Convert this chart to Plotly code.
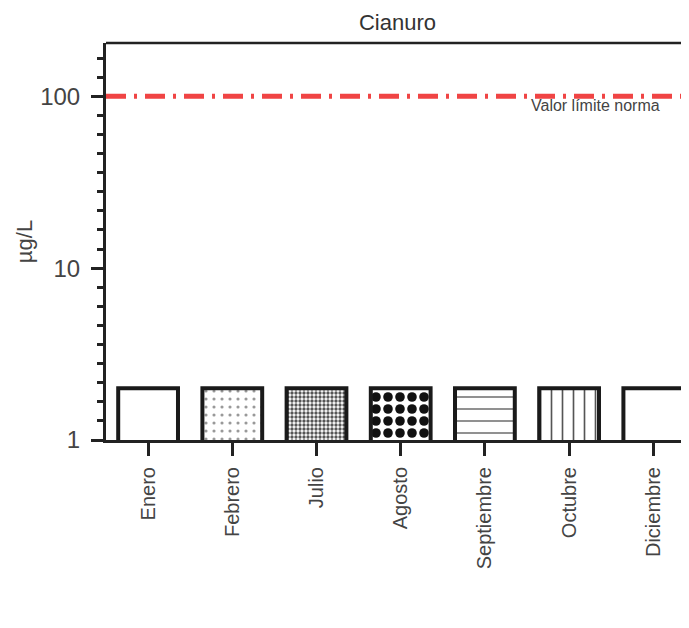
import plotly.graph_objects as go

months = ["Enero", "Febrero", "Julio", "Agosto", "Septiembre", "Octubre", "Diciembre"]
values = [2, 2, 2, 2, 2, 2, 2]
patterns = ["", ".", ".", ".", "-", "|", ""]
pat_size = [6, 8, 4, 12, 12, 11, 6]
pat_solid = [0.3, 0.12, 0.55, 0.5, 0.12, 0.15, 0.3]
pat_fg = ["#333", "#999", "#555", "#111", "#666", "#555", "#333"]
limit_value = 100
limit_label = "Valor límite norma"

x_idx = list(range(len(months)))

# page offset (default body margin of the html page)
OFF = 8
W, H = 689 - OFF, 628 - 2 * OFF
L, T = 106 - OFF, 43 - OFF
PH = 440 - 43
B = H - T - PH

fig = go.Figure()
fig.add_trace(go.Bar(
    x=x_idx, y=values, width=0.71,
    marker=dict(
        color="white",
        line=dict(color="#1a1a1a", width=4),
        pattern=dict(shape=patterns, size=pat_size, solidity=pat_solid,
                     fgcolor=pat_fg, fgopacity=1, bgcolor="white", fillmode="overlay"),
    ),
    showlegend=False,
))

fig.add_trace(go.Scatter(
    x=[-0.5, 6.5], y=[limit_value, limit_value], mode="lines",
    line=dict(color="#f04444", width=5, dash="20px,8px,3px,8px"),
    showlegend=False, hoverinfo="skip",
))

fig.add_annotation(x=6.1, y=2.0, xref="x", yref="y", yanchor="top", xanchor="right",
                   yshift=1,
                   text=limit_label, showarrow=False,
                   font=dict(size=16, color="#444", family="Liberation Sans"))

minor_vals = [10 ** (j / 9) for j in range(0, 21) if j % 9 != 0]

fig.update_layout(
    width=W, height=H,
    margin=dict(l=L, r=0, t=T, b=B),
    plot_bgcolor="white", paper_bgcolor="white",
    font=dict(family="Liberation Sans", color="#333"),
    title=dict(text="Cianuro", x=(397.5 - OFF) / W, xanchor="center",
               y=1 - (22 - OFF) / H, yanchor="middle",
               font=dict(size=22, color="#333")),
    xaxis=dict(
        range=[-0.5, -0.5 + (689 - 106) / 84.2], tickmode="array", tickvals=x_idx,
        ticktext=months,
        tickangle=-90, ticks="outside", ticklen=13, tickwidth=2.5, tickcolor="#222",
        showline=True, linecolor="#222", linewidth=3, showgrid=False,
        tickfont=dict(size=20, color="#444"), zeroline=False, ticklabelstandoff=3,
    ),
    yaxis=dict(
        type="log", range=[0, 2.31], tickmode="array", tickvals=[1, 10, 100],
        ticktext=["1", "10", "100"], ticks="outside", ticklen=12, tickwidth=2.5,
        tickcolor="#222", showline=True, linecolor="#222", linewidth=3,
        showgrid=False, tickfont=dict(size=24, color="#444"), ticklabelstandoff=6,
        title=dict(text="µg/L", font=dict(size=22, color="#444"), standoff=2),
        minor=dict(tickvals=minor_vals, ticks="outside", ticklen=6, tickwidth=2.5,
                   tickcolor="#222", showgrid=False),
    ),
)

fig.add_shape(type="line", xref="paper", yref="paper", x0=0, x1=1, y0=1, y1=1,
              line=dict(color="#222", width=2.5))

fig.write_html("out.html")
